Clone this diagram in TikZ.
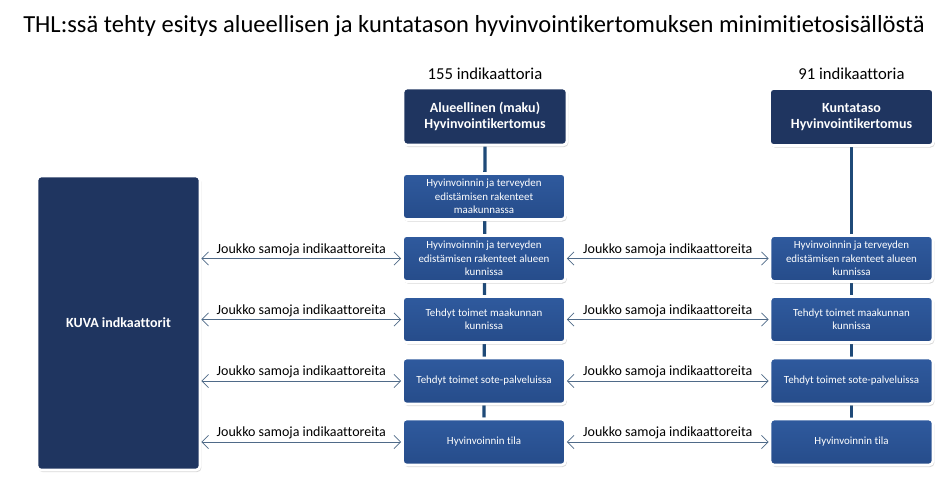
\documentclass[tikz,border=0pt]{standalone}
\usepackage{fontspec}
\setmainfont{Carlito}[Ligatures=NoCommon]
\usepackage{tikz}
\usetikzlibrary{arrows.meta,positioning,backgrounds,shadows}

\definecolor{navy}{HTML}{1F3560}
\definecolor{midblue}{HTML}{2F5A9E}
\definecolor{midblueD}{HTML}{264C8A}
\definecolor{linkgray}{HTML}{4F6A88}
\definecolor{stem}{HTML}{1F4A78}

\begin{document}
\begin{tikzpicture}[
x=0.75pt,y=-0.75pt,
font=\fontsize{9}{10}\selectfont,
headbox/.style={rectangle,rounded corners=3pt,fill=navy,draw=white,line width=2pt,
  text=white,font=\fontsize{10.5}{12}\selectfont\bfseries,align=center,
  minimum width=164*0.75pt,minimum height=57*0.75pt,
  drop shadow={shadow xshift=1pt,shadow yshift=-1.5pt,opacity=0.3}},
subbox/.style={rectangle,rounded corners=3pt,top color=midblue,bottom color=midblueD,
  draw=white,line width=2pt,text=white,font=\fontsize{8.2}{10}\selectfont,
  align=center,minimum width=163*0.75pt,minimum height=46*0.75pt,
  drop shadow={shadow xshift=1pt,shadow yshift=-1.5pt,opacity=0.3}},
linkarrow/.style={{Straight Barb[length=5pt,width=10pt]}-{Straight Barb[length=5pt,width=10pt]},
  draw=linkgray,line width=0.6pt},
linklabel/.style={above,inner sep=2pt,font=\fontsize{10.5}{12}\selectfont},
stemline/.style={draw=stem,line width=2.5pt}]
    % Frame
    \useasboundingbox (0,0) rectangle (949,482);

    \node (title) at (474,26) {\fontsize{18.4}{20}\selectfont THL:ssä tehty esitys alueellisen ja kuntatason hyvinvointikertomuksen minimitietosisällöstä};

    % Head boxes
    \node (cnt155) at (485,74) {\fontsize{12.5}{14}\selectfont 155 indikaattoria};
    \node[headbox] (alue) at (485,116.5) {Alueellinen (maku)\\Hyvinvointikertomus};
    \node (cnt91) at (851.5,74) {\fontsize{12.5}{14}\selectfont 91 indikaattoria};
    \node[headbox] (kunta) at (851.5,117) {Kuntataso\\Hyvinvointikertomus};

    % KUVA
    \node[headbox,font=\fontsize{10.5}{12}\selectfont\bfseries,minimum width=163*0.75pt,
      minimum height=294*0.75pt] (kuva) at (118.5,323) {KUVA indkaattorit};

    % Middle column
    \node[subbox] (a1) at (484,196.5) {Hyvinvoinnin ja terveyden\\edistämisen rakenteet\\maakunnassa};
    \node[subbox] (a2) at (484,258.5) {Hyvinvoinnin ja terveyden\\edistämisen rakenteet alueen\\kunnissa};
    \node[subbox] (a3) at (484,319.5) {Tehdyt toimet maakunnan\\kunnissa};
    \node[subbox] (a4) at (484,381) {Tehdyt toimet sote-palveluissa};
    \node[subbox] (a5) at (484,442) {Hyvinvoinnin tila};

    % Right column
    \node[subbox] (k2) at (851.5,258.5) {Hyvinvoinnin ja terveyden\\edistämisen rakenteet alueen\\kunnissa};
    \node[subbox] (k3) at (851.5,319.5) {Tehdyt toimet maakunnan\\kunnissa};
    \node[subbox] (k4) at (851.5,381) {Tehdyt toimet sote-palveluissa};
    \node[subbox] (k5) at (851.5,442) {Hyvinvoinnin tila};

    \begin{scope}[on background layer]
    \draw[stemline] (alue.south) -- (a5.north);
    \draw[stemline] (kunta.south) -- (k5.north);
    \end{scope}

    % Links
    \draw[linkarrow] (kuva.east |- a2) -- node[linklabel] {Joukko samoja indikaattoreita} (a2.west);
    \draw[linkarrow] (kuva.east |- a3) -- node[linklabel] {Joukko samoja indikaattoreita} (a3.west);
    \draw[linkarrow] (kuva.east |- a4) -- node[linklabel] {Joukko samoja indikaattoreita} (a4.west);
    \draw[linkarrow] (kuva.east |- a5) -- node[linklabel] {Joukko samoja indikaattoreita} (a5.west);
    \draw[linkarrow] (a2.east) -- node[linklabel] {Joukko samoja indikaattoreita} (k2.west);
    \draw[linkarrow] (a3.east) -- node[linklabel] {Joukko samoja indikaattoreita} (k3.west);
    \draw[linkarrow] (a4.east) -- node[linklabel] {Joukko samoja indikaattoreita} (k4.west);
    \draw[linkarrow] (a5.east) -- node[linklabel] {Joukko samoja indikaattoreita} (k5.west);
\end{tikzpicture}
\end{document}
